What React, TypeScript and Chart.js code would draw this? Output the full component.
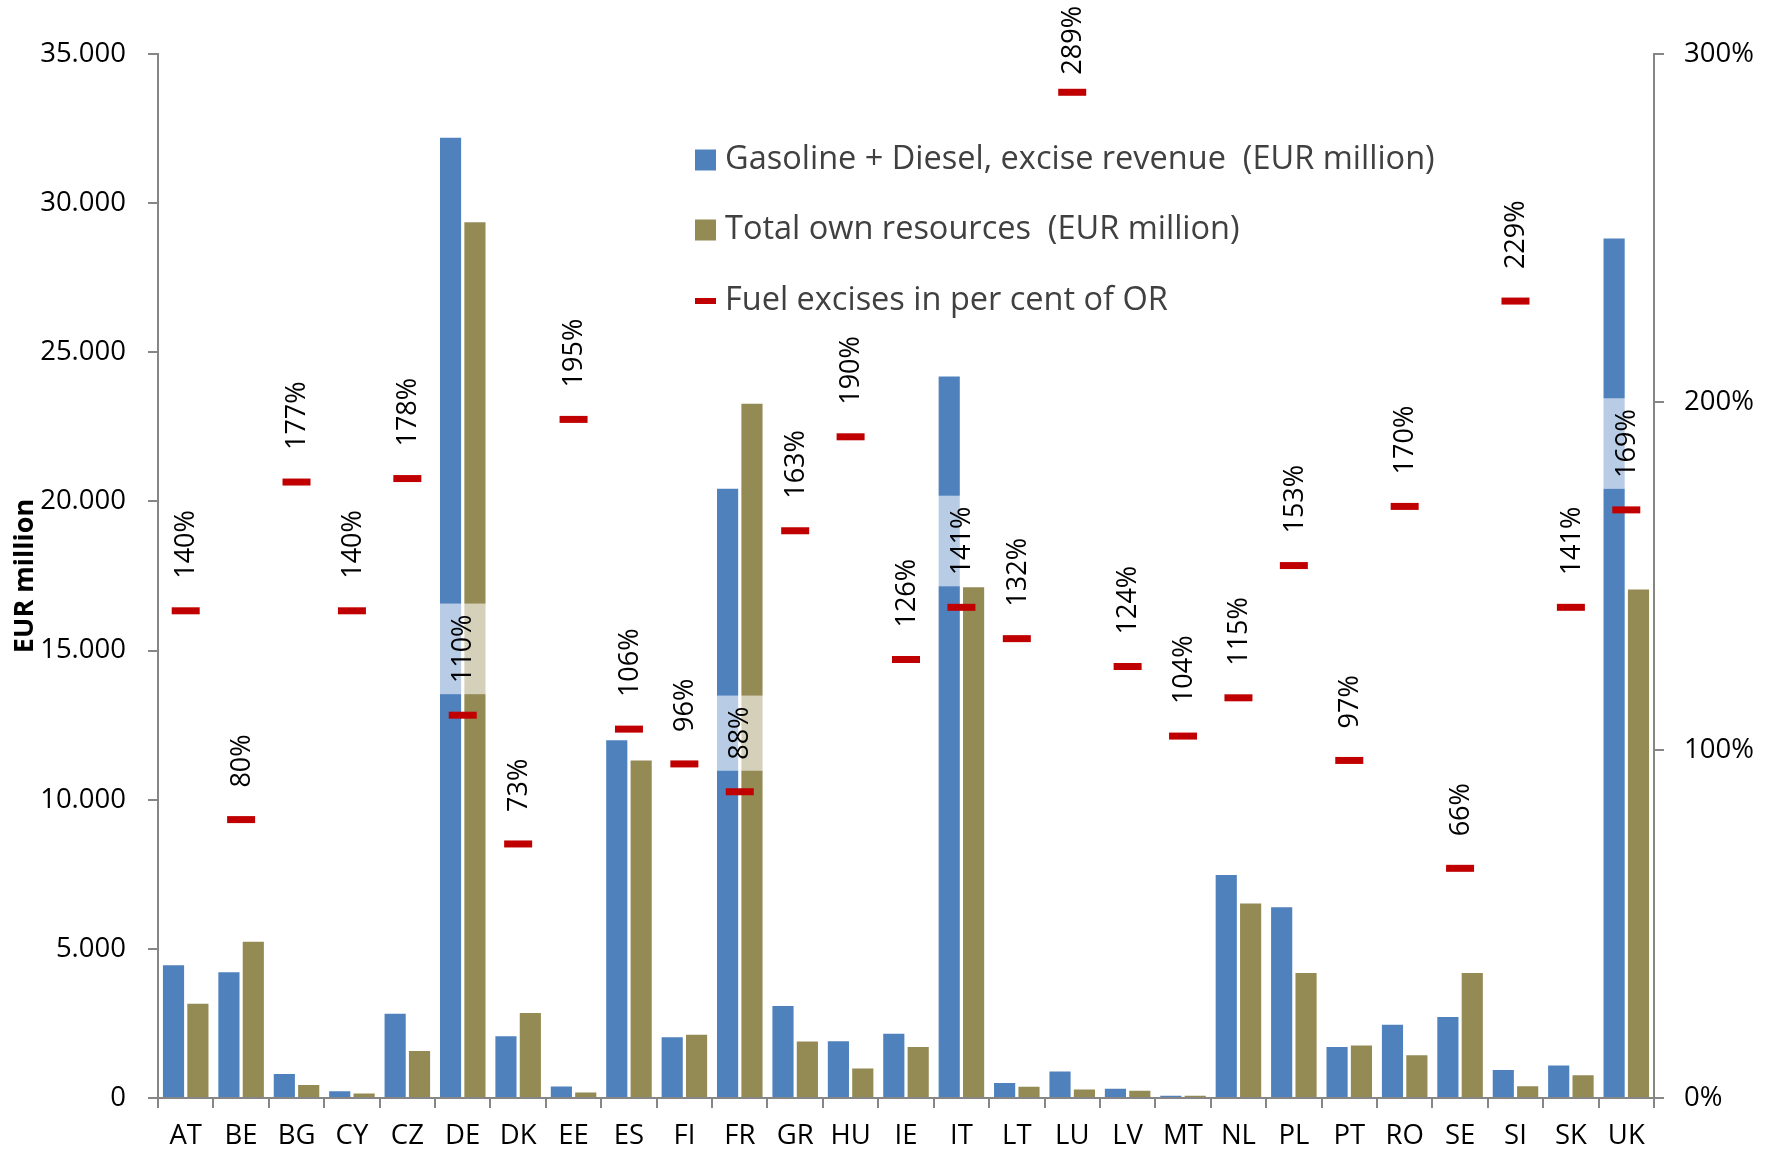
import React, { useEffect, useRef } from 'react';
import { Chart, registerables } from 'chart.js';

Chart.register(...registerables);

const categories = ['AT', 'BE', 'BG', 'CY', 'CZ', 'DE', 'DK', 'EE', 'ES', 'FI', 'FR', 'GR', 'HU', 'IE', 'IT', 'LT', 'LU', 'LV', 'MT', 'NL', 'PL', 'PT', 'RO', 'SE', 'SI', 'SK', 'UK'];
const exciseRevenue = [4480, 4250, 840, 260, 2860, 32230, 2100, 420, 12030, 2070, 20460, 3120, 1940, 2190, 24220, 540, 920, 340, 110, 7510, 6430, 1740, 2490, 2750, 970, 1120, 28850];
const ownResources = [3190, 5270, 470, 185, 1610, 29390, 2880, 215, 11350, 2150, 23310, 1930, 1020, 1740, 17160, 410, 320, 275, 105, 6550, 4220, 1790, 1470, 4220, 425, 795, 17080];
const excisePct = [140, 80, 177, 140, 178, 110, 73, 195, 106, 96, 88, 163, 190, 126, 141, 132, 289, 124, 104, 115, 153, 97, 170, 66, 229, 141, 169];
const seriesLabels = [
  'Gasoline + Diesel, excise revenue  (EUR million)',
  'Total own resources  (EUR million)',
  'Fuel excises in per cent of OR',
];
const leftAxisTitle = 'EUR million';

const BLUE = '#4F81BD';
const OLIVE = '#948A54';
const RED = '#C00000';
const AXIS = '#868686';
const FONT = '"Open Sans", "Noto Sans", sans-serif';

const pctLabelPlugin = {
  id: 'pctLabels',
  afterDatasetsDraw(chart: any) {
    const meta = chart.getDatasetMeta(0);
    const ctx = chart.ctx;
    ctx.save();
    ctx.font = `27px ${FONT}`;
    meta.data.forEach((pt: any, i: number) => {
      const text = `${excisePct[i]}%`;
      const w = ctx.measureText(text).width;
      const start = Math.max(pt.y - 32, w + 6);
      ctx.save();
      ctx.translate(pt.x, start);
      ctx.rotate(-Math.PI / 2);
      ctx.fillStyle = 'rgba(255,255,255,0.6)';
      ctx.fillRect(-11, -26, w + 22, 52);
      ctx.fillStyle = '#000';
      ctx.textAlign = 'left';
      ctx.textBaseline = 'middle';
      ctx.fillText(text, 0, 1);
      ctx.restore();
    });
    ctx.restore();
  },
};

const legendPlugin = {
  id: 'customLegend',
  afterDraw(chart: any) {
    const ctx = chart.ctx;
    ctx.save();
    ctx.font = `32.5px ${FONT}`;
    ctx.textBaseline = 'middle';
    ctx.textAlign = 'left';
    const rows = [160, 230, 301];
    const colors = [BLUE, OLIVE, RED];
    rows.forEach((y, i) => {
      ctx.fillStyle = colors[i];
      if (i < 2) {
        ctx.fillRect(695, y - 10.5, 21, 21);
      } else {
        ctx.fillRect(695, y - 3, 21, 6);
      }
      ctx.fillStyle = '#404040';
      ctx.fillText(seriesLabels[i], 725, y);
    });
    ctx.restore();
  },
};

export default function App() {
  const canvasRef = useRef<HTMLCanvasElement | null>(null);

  useEffect(() => {
    if (!canvasRef.current) return;
    const chart = new Chart(canvasRef.current, {
      type: 'bar',
      data: {
        labels: categories,
        datasets: [
          {
            type: 'line',
            label: seriesLabels[2],
            data: excisePct,
            yAxisID: 'y1',
            showLine: false,
            pointStyle: 'line',
            pointRadius: 14,
            pointHoverRadius: 14,
            pointBorderWidth: 7,
            pointBorderColor: RED,
            pointBackgroundColor: RED,
            borderColor: RED,
            order: 0,
          } as any,
          {
            type: 'bar',
            label: seriesLabels[0],
            data: exciseRevenue,
            yAxisID: 'y',
            backgroundColor: BLUE,
            borderColor: 'rgba(255,255,255,0.35)',
            borderWidth: 1,
            categoryPercentage: 0.88,
            barPercentage: 0.95,
            order: 1,
          },
          {
            type: 'bar',
            label: seriesLabels[1],
            data: ownResources,
            yAxisID: 'y',
            backgroundColor: OLIVE,
            borderColor: 'rgba(255,255,255,0.35)',
            borderWidth: 1,
            categoryPercentage: 0.88,
            barPercentage: 0.95,
            order: 1,
          },
        ],
      },
      options: {
        responsive: true,
        maintainAspectRatio: false,
        animation: false,
        layout: { padding: { top: 54, left: 0, right: 0, bottom: 0 } },
        plugins: {
          legend: { display: false },
          tooltip: { enabled: false },
        },
        scales: {
          x: {
            offset: true,
            grid: { display: true, drawOnChartArea: false, offset: true, tickLength: 10, color: AXIS, lineWidth: 2 },
            border: { color: AXIS, width: 2 },
            ticks: { color: '#000', font: { family: FONT, size: 27.5 }, padding: 12, maxRotation: 0, autoSkip: false },
            afterFit: (axis: any) => { axis.height = 56; },
          },
          y: {
            position: 'left',
            min: 0,
            max: 35000,
            ticks: {
              stepSize: 5000,
              color: '#000',
              font: { family: FONT, size: 27.5 },
              padding: 22,
              callback: (v: any) => Number(v).toString().replace(/\B(?=(\d{3})+(?!\d))/g, '.'),
            },
            grid: { drawOnChartArea: false, tickLength: 10, color: AXIS, lineWidth: 2 },
            border: { color: AXIS, width: 2 },
            title: {
              display: true,
              text: leftAxisTitle,
              color: '#000',
              font: { family: FONT, size: 27, weight: 'bold' },
              padding: { top: 9, bottom: 0 },
            },
            afterFit: (axis: any) => { axis.width = 158; },
          },
          y1: {
            position: 'right',
            min: 0,
            max: 300,
            ticks: {
              stepSize: 100,
              color: '#000',
              font: { family: FONT, size: 27.5 },
              padding: 20,
              callback: (v: any) => `${v}%`,
            },
            grid: { drawOnChartArea: false, tickLength: 10, color: AXIS, lineWidth: 2 },
            border: { color: AXIS, width: 2 },
            afterFit: (axis: any) => { axis.width = 120; },
          },
        },
      },
      plugins: [pctLabelPlugin, legendPlugin],
    });
    return () => chart.destroy();
  }, []);

  return (
    <div style={{ position: 'absolute', left: 0, top: 0, width: 1774, height: 1154, background: '#fff' }}>
      <canvas ref={canvasRef} />
    </div>
  );
}
